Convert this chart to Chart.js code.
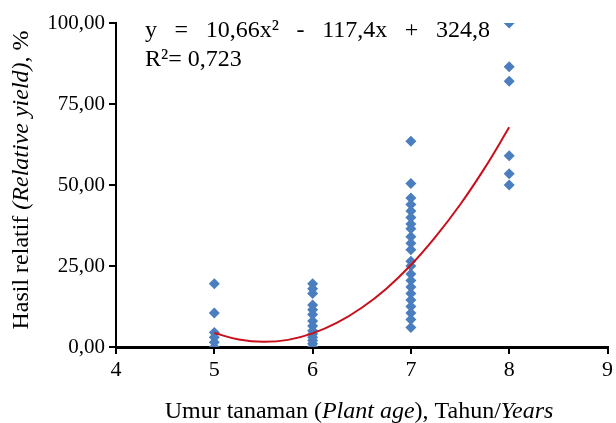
<!DOCTYPE html>
<html>
<head>
<meta charset="utf-8">
<script src="https://cdn.jsdelivr.net/npm/chart.js@4/dist/chart.umd.min.js"></script>
<style>
  html, body { margin: 0; padding: 0; background: #fff; }
  #wrap { width: 616px; height: 423px; }
</style>
</head>
<body>
<div id="wrap"><canvas id="chart" width="616" height="423"></canvas></div>
<script>
// relative yield (%) per plant age (years)
const ages = [5, 6, 7, 8]
const age5 = [19.5, 10.5, 4.5, 3, 1.5, 0]
const age6 = [19.5, 18, 16.5, 13, 11.5, 10, 8, 6.5, 5, 4, 3, 2, 1, 0]
const age7 = [63.5, 50.5, 46, 44, 42, 40, 38, 36.5, 34, 32, 30, 26.5, 25, 22.5, 20.5, 18.5, 16.5, 14.5, 12.5, 10.5, 8.5, 6]
const age8 = [100, 86.5, 82, 59, 53.5, 50]

// trend curve
const trendX = [5, 5.25, 5.5, 5.75, 6, 6.25, 6.5, 6.75, 7, 7.25, 7.5, 7.75, 8]
const trendY = [4.3, 2.3, 1.6, 2.2, 4.2, 7.5, 12.1, 18, 25.3, 34, 43.9, 55.2, 67.8]

const xTicks = [4, 5, 6, 7, 8, 9]
const yTicks = [0, 25, 50, 75, 100]

const equationText = ['y', '=', '10,66x²', '-', '117,4x', '+', '324,8']
const r2Text = 'R²= 0,723'

const groups = [age5, age6, age7, age8]
const points = []
groups.forEach((vals, i) => {
  vals.forEach(v => points.push({ x: ages[i], y: v }))
})
const trend = trendX.map((x, i) => ({ x: x, y: trendY[i] }))

const serif = '"Liberation Serif", "Times New Roman", serif'

// axis titles with italic parts + equation label
const textPlugin = {
  id: 'texts',
  afterDraw(chart) {
    const ctx = chart.ctx
    ctx.save()
    ctx.fillStyle = '#000'
    ctx.textBaseline = 'alphabetic'
    ctx.textAlign = 'left'

    const drawParts = (parts, x, y, size) => {
      let cx = x
      parts.forEach(p => {
        ctx.font = (p[1] ? 'italic ' : '') + size + 'px ' + serif
        ctx.fillText(p[0], cx, y)
        cx += ctx.measureText(p[0]).width
      })
    }
    const partsWidth = (parts, size) => {
      let w = 0
      parts.forEach(p => {
        ctx.font = (p[1] ? 'italic ' : '') + size + 'px ' + serif
        w += ctx.measureText(p[0]).width
      })
      return w
    }

    // x title
    const xt = [['Umur tanaman (', false], ['Plant age', true], ['), Tahun/', false], ['Years', true]]
    drawParts(xt, 359 - partsWidth(xt, 24) / 2, 418, 24)

    // y title
    const yt = [['Hasil relatif ', false], ['(Relative yield)', true], [', %', false]]
    ctx.save()
    ctx.translate(28, 180)
    ctx.rotate(-Math.PI / 2)
    drawParts(yt, -partsWidth(yt, 24) / 2, 0, 24)
    ctx.restore()

    // equation, spread out like the original
    ctx.font = '24px ' + serif
    let total = 0
    equationText.forEach(t => { total += ctx.measureText(t).width })
    const gap = (345 - total) / (equationText.length - 1)
    let ex = 145
    equationText.forEach(t => {
      ctx.fillText(t, ex, 37)
      ex += ctx.measureText(t).width + gap
    })
    ctx.fillText(r2Text, 145, 66)
    ctx.restore()
  }
}

new Chart(document.getElementById('chart').getContext('2d'), {
  type: 'scatter',
  data: {
    datasets: [
      {
        label: 'trend',
        type: 'line',
        data: trend,
        borderColor: '#c8101c',
        borderWidth: 2,
        pointRadius: 0,
        tension: 0.4,
        fill: false,
        order: 0,
      },
      {
        label: 'Hasil relatif',
        data: points,
        pointStyle: 'rectRot',
        pointRadius: 5.5,
        backgroundColor: '#4a7ebf',
        borderColor: '#4a7ebf',
        borderWidth: 0,
        order: 1,
      },
    ],
  },
  options: {
    responsive: false,
    animation: false,
    layout: { padding: { top: 23, right: 6, left: 0, bottom: 0 } },
    plugins: {
      legend: { display: false },
      tooltip: { enabled: false },
    },
    scales: {
      x: {
        type: 'linear',
        min: 4,
        max: 9,
        afterBuildTicks: s => { s.ticks = xTicks.map(v => ({ value: v })) },
        afterFit: s => { s.height = 76 },
        ticks: {
          color: '#000',
          font: { family: serif, size: 22 },
          padding: 3,
        },
        grid: { drawOnChartArea: false, drawTicks: true, tickLength: 7, color: '#000', lineWidth: 2 },
        border: { color: '#000', width: 3 },
      },
      y: {
        min: 0,
        max: 100,
        afterBuildTicks: s => { s.ticks = yTicks.map(v => ({ value: v })) },
        afterFit: s => { s.width = 116 },
        ticks: {
          color: '#000',
          font: { family: serif, size: 21 },
          padding: 4,
          callback: v => v.toFixed(2).replace('.', ','),
        },
        grid: { drawOnChartArea: false, drawTicks: true, tickLength: 7, color: '#000', lineWidth: 2 },
        border: { color: '#000', width: 2 },
      },
    },
  },
  plugins: [textPlugin],
})
</script>
</body>
</html>
